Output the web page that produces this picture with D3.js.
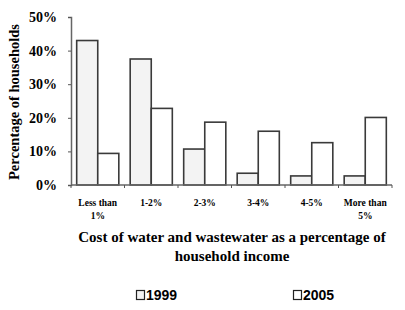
<!DOCTYPE html>
<html>
<head>
<meta charset="utf-8">
<script src="https://cdn.jsdelivr.net/npm/d3@7"></script>
<style>
  body { margin: 0; background: #fff; }
  text { font-family: "Liberation Serif", "DejaVu Serif", serif; font-weight: bold; fill: #000; }
</style>
</head>
<body>
<div id="chart"></div>
<script>
// Data
const categories = ["Less than 1%", "1-2%", "2-3%", "3-4%", "4-5%", "More than 5%"];
const tickLines = [["Less than", "1%"], ["1-2%"], ["2-3%"], ["3-4%"], ["4-5%"], ["More than", "5%"]];
const seriesNames = ["1999", "2005"];
const values1999 = [0.43, 0.375, 0.107, 0.035, 0.027, 0.027];
const values2005 = [0.094, 0.228, 0.187, 0.16, 0.126, 0.201];
const yTicks = [0, 0.1, 0.2, 0.3, 0.4, 0.5];

const W = 405, H = 310;
const margin = { top: 17, right: 13, bottom: 125, left: 71 };
const width = W - margin.left - margin.right;
const height = H - margin.top - margin.bottom;

const svg = d3.select("#chart")
  .append("svg")
  .attr("width", W)
  .attr("height", H);

const g = svg.append("g")
  .attr("transform", "translate(" + margin.left + "," + margin.top + ")");

const x = d3.scaleBand()
  .domain(categories)
  .range([0, width])
  .padding(0);

const xSub = d3.scaleBand()
  .domain(seriesNames)
  .range([0, x.bandwidth()])
  .paddingInner(0)
  .paddingOuter(0.27);

const y = d3.scaleLinear()
  .domain([0, 0.5])
  .range([height, 0]);

const fills = { "1999": "#f3f3f3", "2005": "#ffffff" };

const rows = categories.map((c, i) => ({ cat: c, vals: [
  { s: "1999", v: values1999[i] },
  { s: "2005", v: values2005[i] }
] }));

// Bars
const groups = g.selectAll(".grp")
  .data(rows)
  .enter().append("g")
  .attr("transform", d => "translate(" + x(d.cat) + ",0)");

groups.selectAll("rect")
  .data(d => d.vals)
  .enter().append("rect")
  .attr("x", d => xSub(d.s))
  .attr("y", d => y(d.v))
  .attr("width", xSub.bandwidth())
  .attr("height", d => height - y(d.v))
  .attr("fill", d => fills[d.s])
  .attr("stroke", "#3a3a3a")
  .attr("stroke-width", 1.6);

// Y axis
const yAxis = g.append("g")
  .call(d3.axisLeft(y).tickValues(yTicks).tickFormat(d3.format(".0%")).tickSize(3).tickPadding(11));
yAxis.select(".domain").attr("stroke", "#666").attr("stroke-width", 1.5);
yAxis.selectAll(".tick line").attr("stroke", "#555");
yAxis.selectAll("text")
  .style("font-size", "14px")
  .style("font-family", "'Liberation Serif', serif")
  .style("font-weight", "bold")
  .attr("fill", "#000");

// X axis with ticks on category boundaries
const xAxisG = g.append("g")
  .attr("transform", "translate(0," + height + ")");
xAxisG.append("line")
  .attr("x1", 0).attr("x2", width)
  .attr("stroke", "#666").attr("stroke-width", 1.5);
xAxisG.selectAll(".bt")
  .data(categories.concat(["end"]))
  .enter().append("line")
  .attr("x1", (d, i) => i * x.step())
  .attr("x2", (d, i) => i * x.step())
  .attr("y1", 0).attr("y2", 3)
  .attr("stroke", "#555");

const labels = xAxisG.selectAll(".xl")
  .data(categories)
  .enter().append("text")
  .attr("text-anchor", "middle")
  .attr("x", d => x(d) + x.bandwidth() / 2)
  .attr("y", 21)
  .style("font-size", "9.5px");
labels.selectAll("tspan")
  .data((d, i) => tickLines[i])
  .enter().append("tspan")
  .attr("x", function () { return d3.select(this.parentNode).attr("x"); })
  .attr("dy", (d, i) => i === 0 ? 0 : 13)
  .text(d => d);

// Axis titles
svg.append("text")
  .attr("transform", "rotate(-90)")
  .attr("x", -(margin.top + height / 2) - 1)
  .attr("y", 19)
  .attr("text-anchor", "middle")
  .style("font-size", "14.5px")
  .text("Percentage of households");

const xt = svg.append("text")
  .attr("text-anchor", "middle")
  .style("font-size", "15px");
xt.append("tspan").attr("x", 232).attr("y", 242).text("Cost of water and wastewater as a percentage of");
xt.append("tspan").attr("x", 232).attr("y", 261).text("household income");

// Legend
const legendX = [136, 293];
const leg = svg.selectAll(".leg")
  .data(seriesNames)
  .enter().append("g")
  .attr("transform", (d, i) => "translate(" + legendX[i] + ",290)");
leg.append("rect")
  .attr("x", 0.5).attr("y", 0.5)
  .attr("width", 8).attr("height", 9)
  .attr("fill", d => fills[d])
  .attr("stroke", "#222").attr("stroke-width", 1.2);
leg.append("text")
  .attr("x", 10)
  .attr("y", 10)
  .style("font-size", "14px")
  .style("font-family", "'Liberation Sans', Arial, sans-serif")
  .text(d => d);
</script>
</body>
</html>
